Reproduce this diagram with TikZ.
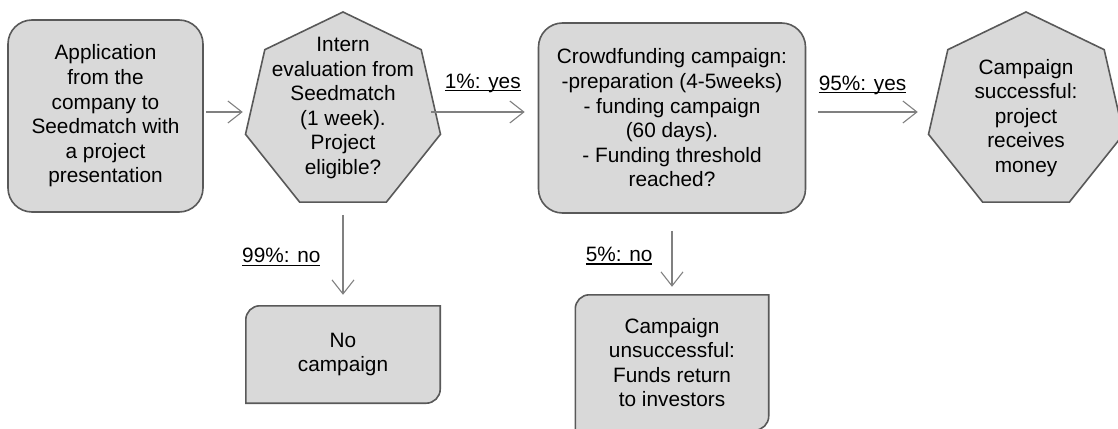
\documentclass[tikz,border=0pt]{standalone}
\usepackage{fontspec}
\setmainfont{Liberation Sans}
\usepackage{tikz}
\usetikzlibrary{shapes.geometric,arrows.meta,backgrounds}

\definecolor{boxfill}{HTML}{D9D9D9}
\definecolor{boxline}{HTML}{595959}
\definecolor{flowline}{HTML}{808080}

% underline that crosses the descenders
\newsavebox{\ulbox}
\newcommand{\ulabel}[1]{\sbox{\ulbox}{#1}\rlap{\rule[-3.2pt]{\wd\ulbox}{1.4pt}}\usebox{\ulbox}}

\tikzset{
  txt/.style={font=\fontsize{20.8}{24.6}\selectfont, align=center, inner sep=0pt},
  roundbox/.style={txt, draw=boxline, fill=boxfill, line width=1.6pt, rounded corners=24pt},
  hept/.style={regular polygon, regular polygon sides=7, draw=boxline, fill=boxfill,
    line width=1.6pt, minimum size=200pt, inner sep=0pt},
  cutline/.style={draw=boxline, fill=boxfill, line width=1.6pt},
  flow/.style={draw=flowline, line width=1.1pt, -{Straight Barb[length=14pt,width=22pt]}},
  lbl/.style={font=\fontsize{20.8}{24.6}\selectfont, inner sep=0pt},
}

\begin{document}
\begin{tikzpicture}[x=1pt, y=1pt]

    \useasboundingbox (0,0) rectangle (1118,-428);

    % top row
    \node[roundbox, minimum width=195pt, minimum height=192pt] (app) at (105.5,-116)
      {Application\\from the\\company to\\Seedmatch with\\a project\\presentation};
    \node[hept] (eval) at (343,-112) {};
    \node[txt] (evaltext) at (343,-108) {Intern\\evaluation from\\Seedmatch\\(1 week).\\Project\\eligible?};
    \node[roundbox, minimum width=267pt, minimum height=190pt] (crowd) at (672,-118)
      {Crowdfunding campaign:\\-preparation (4-5weeks)\\- funding campaign\\(60 days).\\- Funding threshold\\reached?};
    \node[hept] (succ) at (1026,-112) {};
    \node[txt] (succtext) at (1026,-118) {Campaign\\successful:\\project\\receives\\money};

    % bottom row
    \node[txt, minimum width=194pt, minimum height=97pt] (nocamp) at (343,-354.5) {No\\campaign};
    \node[txt, minimum width=193pt, minimum height=135pt] (unsucc) at (672,-362.5)
      {Campaign\\unsuccessful:\\Funds return\\to investors};

    % boxes with two rounded corners
    \begin{scope}[on background layer]
      \foreach \shp in {nocamp, unsucc} {
        \path[cutline] (\shp.south west) -- ([yshift=-14pt]\shp.north west)
          arc[start angle=180, end angle=90, radius=14pt] -- (\shp.north east)
          -- ([yshift=14pt]\shp.south east)
          arc[start angle=0, end angle=-90, radius=14pt] -- cycle;
      }
    \end{scope}

    % the connections
    \draw[flow, shorten <=2pt, shorten >=7pt] (app.east |- eval.center) -- (eval.west);
    \draw[flow, shorten <=-5pt, shorten >=13pt] (eval.east) -- (crowd.west |- eval.east)
      node[lbl, pos=0, anchor=base west, xshift=8pt, yshift=24pt] (yes1) {\ulabel{1\%: yes}};
    \draw[flow, shorten <=12pt, shorten >=15pt] (crowd.east |- succ.center) -- (succ.west)
      node[lbl, pos=0, anchor=base west, xshift=12pt, yshift=22pt] (yes2) {\ulabel{95\%: yes}};
    \draw[flow, shorten <=12pt, shorten >=11pt] (eval.south) -- (nocamp.north)
      node[lbl, midway, anchor=base east, xshift=-22pt, yshift=-8.5pt] (no1) {\ulabel{99\%: no}};
    \draw[flow, shorten <=17pt, shorten >=8pt] (crowd.south) -- (unsucc.north)
      node[lbl, midway, anchor=base east, xshift=-19pt, yshift=-7pt] (no2) {\ulabel{5\%: no}};

\end{tikzpicture}
\end{document}
